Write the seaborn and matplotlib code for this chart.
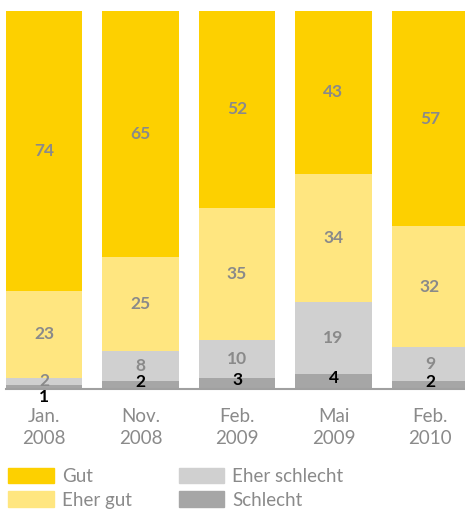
import numpy as np
import pandas as pd
import seaborn as sns
import matplotlib.pyplot as plt
from matplotlib.patches import Patch

dates = ["Jan.\n2008", "Nov.\n2008", "Feb.\n2009", "Mai\n2009", "Feb.\n2010"]
schlecht = [1, 2, 3, 4, 2]
eher_schlecht = [2, 8, 10, 19, 9]
eher_gut = [23, 25, 35, 34, 32]
gut = [74, 65, 52, 43, 57]

series = ["Schlecht", "Eher schlecht", "Eher gut", "Gut"]
colors = {"Gut": "#FDD000", "Eher gut": "#FFE680",
          "Eher schlecht": "#D0D0D0", "Schlecht": "#A6A6A6"}
grey_txt = "#8A8A8A"

df = pd.DataFrame({"date": dates, "Schlecht": schlecht, "Eher schlecht": eher_schlecht,
                   "Eher gut": eher_gut, "Gut": gut})
cum = df[series].cumsum(axis=1)

sns.set_style("white")
plt.rcParams['font.family'] = ['Lato', 'DejaVu Sans']

fig = plt.figure(figsize=(4.65, 5.09), dpi=100)
ax = fig.add_axes([6 / 465, (509 - 389) / 509, 459 / 465, 378 / 509])

# stacked bars: draw cumulative totals from the top down
for s in series[::-1]:
    sns.barplot(x=df["date"], y=cum[s], color=colors[s], width=0.79,
                saturation=1, linewidth=0, ax=ax)

# value labels
for i in range(len(dates)):
    base = 0
    for s in series:
        v = df[s][i]
        mid = base + v / 2
        if s == "Schlecht":
            y = -2.2 if v == 1 else mid + 0.8
            ax.text(i, y, str(v), ha="center", va="center", fontsize=12.5,
                    fontweight="bold", color="black")
        else:
            ax.text(i, mid, str(v), ha="center", va="center", fontsize=12.5,
                    fontweight="bold", color=grey_txt)
        base += v

ax.set_xlim(-0.395, 4.363)
ax.set_ylim(0, 100)
ax.set_xlabel("")
ax.set_ylabel("")
ax.set_yticks([])
sns.despine(ax=ax, left=True, top=True, right=True)
ax.spines["bottom"].set_color("#A0A0A0")
ax.spines["bottom"].set_linewidth(1.5)
ax.tick_params(axis="x", length=0, pad=14, labelsize=13.5, labelcolor=grey_txt)
for t in ax.get_xticklabels():
    t.set_linespacing(1.3)

handles = [Patch(color=colors[s], label=s) for s in ["Gut", "Eher gut", "Eher schlecht", "Schlecht"]]
fig.legend(handles=handles, ncol=2, loc="upper left",
           bbox_to_anchor=(0.005, 1 - 462 / 509),
           frameon=False, fontsize=13.5, labelcolor=grey_txt, handlelength=2.44,
           handleheight=0.9, handletextpad=0.43, columnspacing=2.5, labelspacing=0.35,
           borderaxespad=0, borderpad=0.3)

fig.savefig("out.png", dpi=100)
